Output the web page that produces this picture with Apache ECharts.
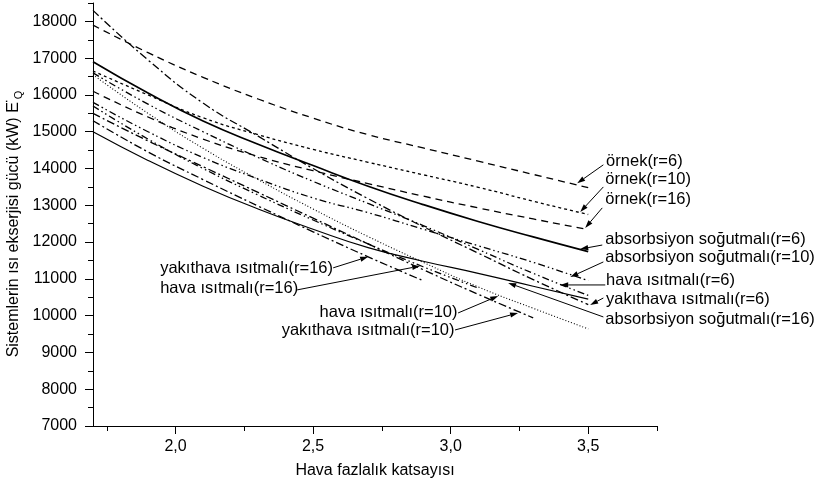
<!DOCTYPE html>
<html>
<head>
<meta charset="utf-8">
<script src="https://cdn.jsdelivr.net/npm/echarts@6/dist/echarts.min.js"></script>
<style>
  html, body { margin: 0; padding: 0; background: #fff; }
  #chart { width: 817px; height: 490px; }
</style>
</head>
<body>
<div id="chart"></div>
<script>
// Hava fazlalık katsayısı values at which the exergy curves are sampled
const alpha = [1.7, 1.9, 2.1, 2.3, 2.5, 2.7, 2.9, 3.1, 3.3, 3.5];

// Isı ekserjisi gücü (kW) per system and compression ratio
const ornek6    = [17900, 17150, 16480, 15890, 15370, 14920, 14560, 14200, 13840, 13480];
const ornek10   = [16650, 16000, 15380, 14920, 14520, 14170, 13830, 13490, 13110, 12750];
const ornek16   = [16100, 15400, 14800, 14330, 13940, 13590, 13250, 12930, 12630, 12340];
const absorb6   = [16900, 16050, 15290, 14660, 14080, 13520, 13020, 12560, 12140, 11740];
const absorb10  = [15800, 15000, 14300, 13720, 13200, 12800, 12350, 11900, 11450, 10950];
const absorb16  = [15000, 14220, 13520, 12900, 12350, 11850, 11480, 11150, 10800, 10450];
const hava6     = [16600, 15750, 15000, 14300, 13650, 13050, 12450, 11800, 11150, 10550];
const hava10    = [16550, 15500, 14550, 13700, 12900, 12150, 11450, 10780, 10200, 9640];
const hava16    = [15700, 14800, 14000, 13280, 12600, 11950, 11330, 10750];
const yakit6    = [18300, 16950, 15780, 14880, 14000, 13180, 12420, 11700, 10980, 10300];
const yakit10   = [15500, 14750, 14050, 13350, 12650, 11950, 11250, 10580, 9940];
const yakit16   = [15300, 14450, 13700, 12980, 12280, 11600, 10950];

// Axis tick positions
const xMajor = [2.0, 2.5, 3.0, 3.5];
const xMinor = [1.75, 2.25, 2.75, 3.25, 3.75];
const yMajor = [7000, 8000, 9000, 10000, 11000, 12000, 13000, 14000, 15000, 16000, 17000, 18000];
const yMinor = [7500, 8500, 9500, 10500, 11500, 12500, 13500, 14500, 15500, 16500, 17500, 18500];

const FONT = '"Liberation Sans", Arial, sans-serif';
const DASH = [7, 5];
const SHORT = [3, 3];
const DOT = [1, 2];
const DASHDOT = [8, 3, 2, 3];
const DASHDOTDOT = [7, 3, 1.5, 3, 1.5, 3];

function pairs(ys) { return ys.map((v, i) => [alpha[i], v]); }

const curves = [
  { name: 'örnek(r=6)', ys: ornek6, type: DASH, width: 1.3 },
  { name: 'örnek(r=10)', ys: ornek10, type: SHORT, width: 1.3 },
  { name: 'örnek(r=16)', ys: ornek16, type: DASH, width: 1.3 },
  { name: 'absorbsiyon soğutmalı(r=6)', ys: absorb6, type: 'solid', width: 1.7 },
  { name: 'absorbsiyon soğutmalı(r=10)', ys: absorb10, type: DASHDOTDOT, width: 1.3 },
  { name: 'absorbsiyon soğutmalı(r=16)', ys: absorb16, type: 'solid', width: 1.2 },
  { name: 'hava ısıtmalı(r=6)', ys: hava6, type: DASHDOTDOT, width: 1.3 },
  { name: 'hava ısıtmalı(r=10)', ys: hava10, type: DOT, width: 1.1 },
  { name: 'hava ısıtmalı(r=16)', ys: hava16, type: DASHDOTDOT, width: 1.3 },
  { name: 'yakıthava ısıtmalı(r=6)', ys: yakit6, type: DASHDOT, width: 1.3 },
  { name: 'yakıthava ısıtmalı(r=10)', ys: yakit10, type: DASHDOT, width: 1.3 },
  { name: 'yakıthava ısıtmalı(r=16)', ys: yakit16, type: DASHDOT, width: 1.3 }
];

// Curve labels with leader arrows (data coordinates)
const notes = [
  { text: 'örnek(r=6)', align: 'left', at: [3.565, 14180], from: [3.555, 14100], to: [3.46, 13600] },
  { text: 'örnek(r=10)', align: 'left', at: [3.562, 13690], from: [3.555, 13500], to: [3.471, 12820] },
  { text: 'örnek(r=16)', align: 'left', at: [3.562, 13150], from: [3.551, 12930], to: [3.489, 12385] },
  { text: 'absorbsiyon soğutmalı(r=6)', align: 'left', at: [3.562, 12060], from: [3.551, 11920], to: [3.471, 11810] },
  { text: 'absorbsiyon soğutmalı(r=10)', align: 'left', at: [3.562, 11570], from: [3.555, 11460], to: [3.435, 11050] },
  { text: 'hava ısıtmalı(r=6)', align: 'left', at: [3.565, 10970], from: [3.562, 10835], to: [3.398, 10835] },
  { text: 'yakıthava ısıtmalı(r=6)', align: 'left', at: [3.565, 10430], from: [3.555, 10480], to: [3.507, 10290] },
  { text: 'absorbsiyon soğutmalı(r=16)', align: 'left', at: [3.562, 9910], from: [3.555, 9965], to: [3.209, 10890] },
  { text: 'yakıthava ısıtmalı(r=16)', align: 'left', at: [1.944, 11270], from: [2.573, 11300], to: [2.700, 11600] },
  { text: 'hava ısıtmalı(r=16)', align: 'left', at: [1.944, 10726], from: [2.442, 10700], to: [2.889, 11350] },
  { text: 'hava ısıtmalı(r=10)', align: 'right', at: [3.025, 10100], from: [3.027, 10073], to: [3.173, 10535] },
  { text: 'yakıthava ısıtmalı(r=10)', align: 'right', at: [3.014, 9611], from: [3.016, 9611], to: [3.245, 10073] }
];

const chart = echarts.init(document.getElementById('chart'), null, { renderer: 'canvas' });

const axisCommon = {
  type: 'value',
  splitLine: { show: false },
  axisLine: { show: true, onZero: false, lineStyle: { color: '#000', width: 1 } }
};

chart.setOption({
  animation: false,
  backgroundColor: '#fff',
  textStyle: { fontFamily: FONT, color: '#000' },
  grid: { left: 93, right: 160, top: 3, bottom: 64, containLabel: false, outerBoundsMode: 'none' },
  xAxis: [
    Object.assign({}, axisCommon, {
      min: 1.7, max: 3.75, position: 'bottom',
      axisTick: { show: true, inside: false, length: 8, customValues: xMajor, lineStyle: { color: '#000' } },
      axisLabel: {
        customValues: xMajor, margin: 13, fontSize: 16, color: '#000', fontFamily: FONT,
        formatter: v => v.toFixed(1).replace('.', ',')
      },
      name: 'Hava fazlalık katsayısı', nameLocation: 'middle', nameGap: 37,
      nameTextStyle: { fontSize: 16, color: '#000', fontFamily: FONT }
    }),
    {
      type: 'value', min: 1.7, max: 3.75, position: 'bottom',
      splitLine: { show: false }, axisLine: { show: false, onZero: false },
      axisLabel: { show: false },
      axisTick: { show: true, inside: false, length: 5, customValues: xMinor, lineStyle: { color: '#000' } }
    }
  ],
  yAxis: [
    Object.assign({}, axisCommon, {
      min: 7000, max: 18500, position: 'left',
      axisTick: { show: true, inside: false, length: 8, customValues: yMajor, lineStyle: { color: '#000' } },
      axisLabel: {
        customValues: yMajor, margin: 16, fontSize: 16, color: '#000', fontFamily: FONT,
        formatter: v => String(Math.round(v))
      }
    }),
    {
      type: 'value', min: 7000, max: 18500, position: 'left',
      splitLine: { show: false }, axisLine: { show: false, onZero: false },
      axisLabel: { show: false },
      axisTick: { show: true, inside: false, length: 5, customValues: yMinor, lineStyle: { color: '#000' } }
    }
  ],
  series: curves.map(c => ({
    name: c.name,
    type: 'line',
    xAxisIndex: 0,
    yAxisIndex: 0,
    data: pairs(c.ys),
    showSymbol: false,
    symbol: 'none',
    smooth: 0.5,
    silent: true,
    lineStyle: { color: '#000', width: c.width, type: c.type },
    emphasis: { disabled: true }
  }))
});

// Leader lines, arrowheads and curve labels
function toPx(p) { return chart.convertToPixel({ xAxisIndex: 0, yAxisIndex: 0 }, p); }

const graphics = [];
notes.forEach(n => {
  const a = toPx(n.at), f = toPx(n.from), t = toPx(n.to);
  const dx = t[0] - f[0], dy = t[1] - f[1];
  const len = Math.hypot(dx, dy) || 1;
  const ux = dx / len, uy = dy / len;
  const headLen = 8, headHalf = 2.6;
  const bx = t[0] - ux * headLen, by = t[1] - uy * headLen;
  graphics.push({
    type: 'line', silent: true,
    shape: { x1: f[0], y1: f[1], x2: bx, y2: by },
    style: { stroke: '#000', lineWidth: 1 }
  });
  graphics.push({
    type: 'polygon', silent: true,
    shape: { points: [[t[0], t[1]], [bx - uy * headHalf, by + ux * headHalf], [bx + uy * headHalf, by - ux * headHalf]] },
    style: { fill: '#000' }
  });
  graphics.push({
    type: 'text', silent: true, x: a[0], y: a[1],
    style: { text: n.text, fill: '#000', font: '16.5px ' + FONT, align: n.align, verticalAlign: 'middle' }
  });
});

// Vertical axis title with subscript Q
graphics.push({
  type: 'text', silent: true, x: 14, y: 224, rotation: Math.PI / 2,
  style: {
    text: 'Sistemlerin ısı ekserjisi gücü (kW) E{d|˙}{q|Q}',
    fill: '#000', fontFamily: FONT, fontSize: 16, lineHeight: 20,
    align: 'center', verticalAlign: 'middle',
    rich: {
      d: { fontSize: 16, fontFamily: FONT, fill: '#000', lineHeight: 20, width: 3 },
      q: { fontSize: 11, fontFamily: FONT, fill: '#000', lineHeight: 11, verticalAlign: 'bottom' }
    }
  }
});

chart.setOption({ graphic: graphics });
</script>
</body>
</html>
